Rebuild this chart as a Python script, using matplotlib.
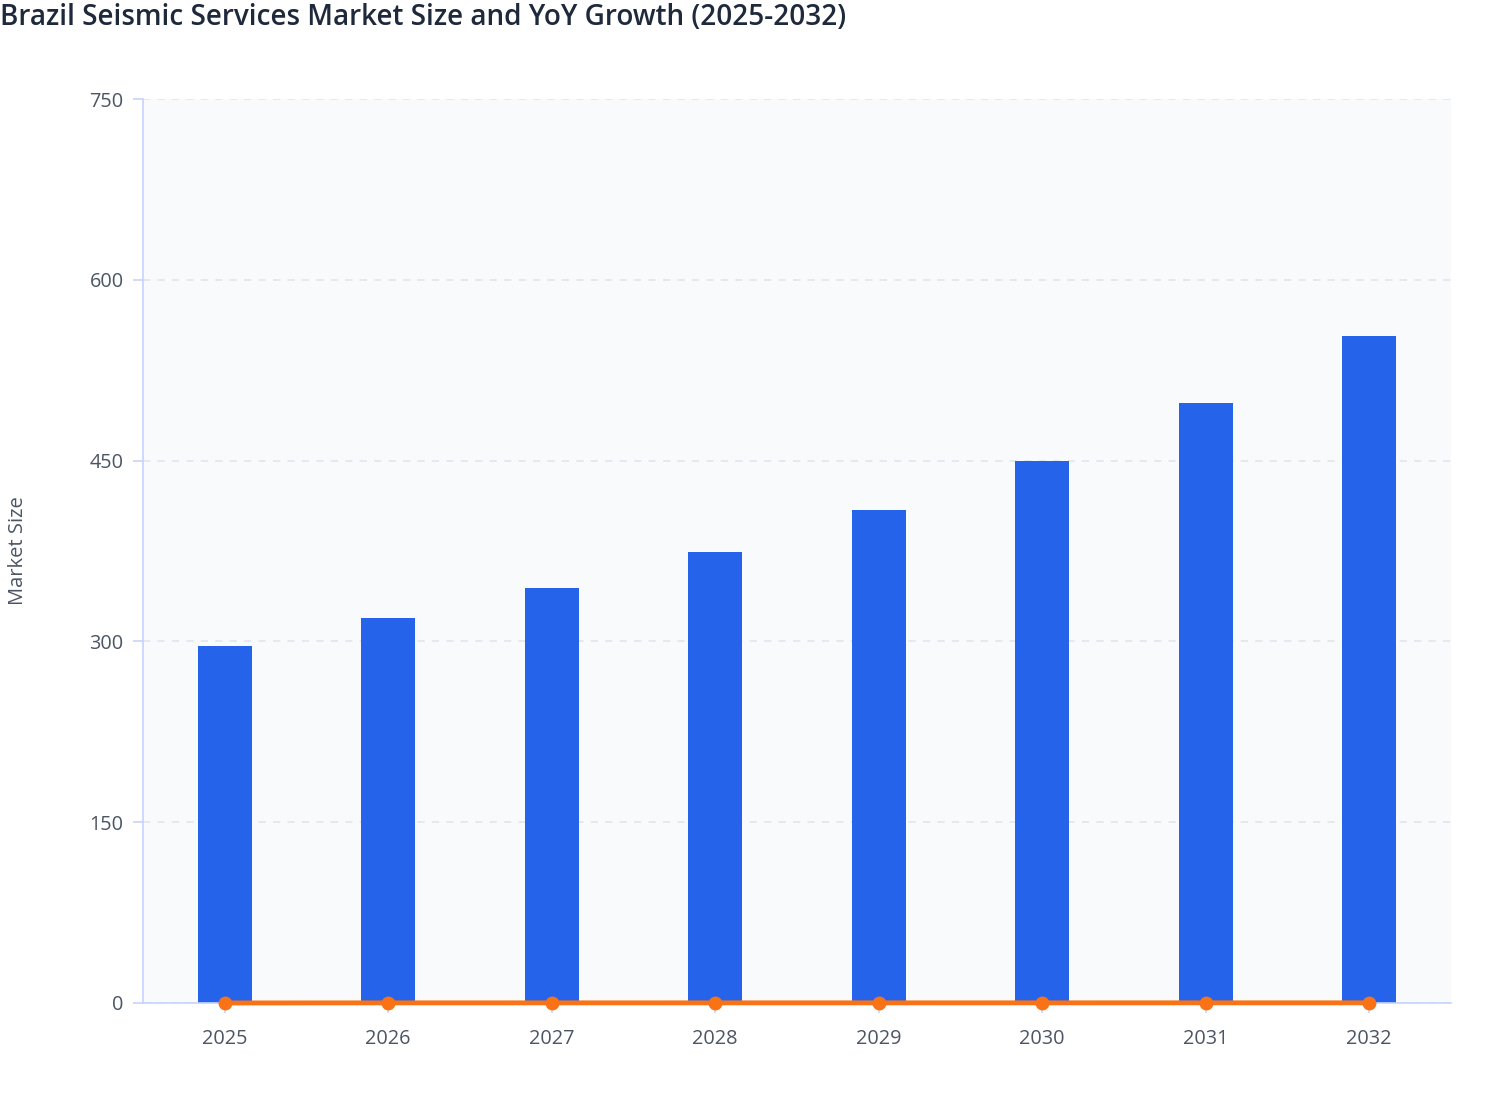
import matplotlib.pyplot as plt

plt.rcParams['font.family'] = ['Open Sans', 'DejaVu Sans']

# datos
anios = ["2025", "2026", "2027", "2028", "2029", "2030", "2031", "2032"]
tamano_mercado = [296, 319, 344, 374, 409, 450, 498, 553]
crecimiento_yoy = [0.0, 0.08, 0.08, 0.09, 0.09, 0.10, 0.11, 0.11]

ticks_y = [0, 150, 300, 450, 600, 750]

color_barra = "#2563eb"
color_linea = "#f97316"
color_texto = "#4b5563"
color_eje = "#c7d2fe"

fig = plt.figure(figsize=(15.08, 11.2), dpi=100)
ax = fig.add_axes([0.0948, 0.1045, 0.8674, 0.8071])
ax.set_facecolor("#f8fafc")

x = list(range(len(anios)))
ax.bar(x, tamano_mercado, width=0.33, color=color_barra, zorder=2)
ax.plot(x, crecimiento_yoy, color=color_linea, linewidth=3.5, marker='o',
        markersize=9, zorder=3, clip_on=False)

ax.set_xlim(-0.5, len(anios) - 0.5)
ax.set_ylim(0, 750)
ax.set_xticks(x)
ax.set_xticklabels(anios)
ax.set_yticks(ticks_y)
ax.set_yticklabels([str(v) for v in ticks_y])

ax.grid(axis='y', color="#e2e8f0", linestyle=(0, (4, 4)), linewidth=1.3, zorder=0)
for lado in ["top", "right"]:
    ax.spines[lado].set_visible(False)
for lado in ["left", "bottom"]:
    ax.spines[lado].set_color(color_eje)
    ax.spines[lado].set_linewidth(1.2)

ax.tick_params(axis='both', colors=color_eje, labelcolor=color_texto,
               labelsize=14.3, length=7, width=1.2, pad=7)
ax.tick_params(axis='x', pad=12)

ax.set_ylabel("Market Size", fontsize=14.5, color=color_texto)
ax.yaxis.set_label_coords(-0.088, 0.5)

fig.text(0.0, 0.997, "Brazil Seismic Services Market Size and YoY Growth (2025-2032)",
         fontsize=20.1, fontweight='semibold', color="#1e293b", ha='left', va='top')

plt.savefig("out.png", dpi=100)
